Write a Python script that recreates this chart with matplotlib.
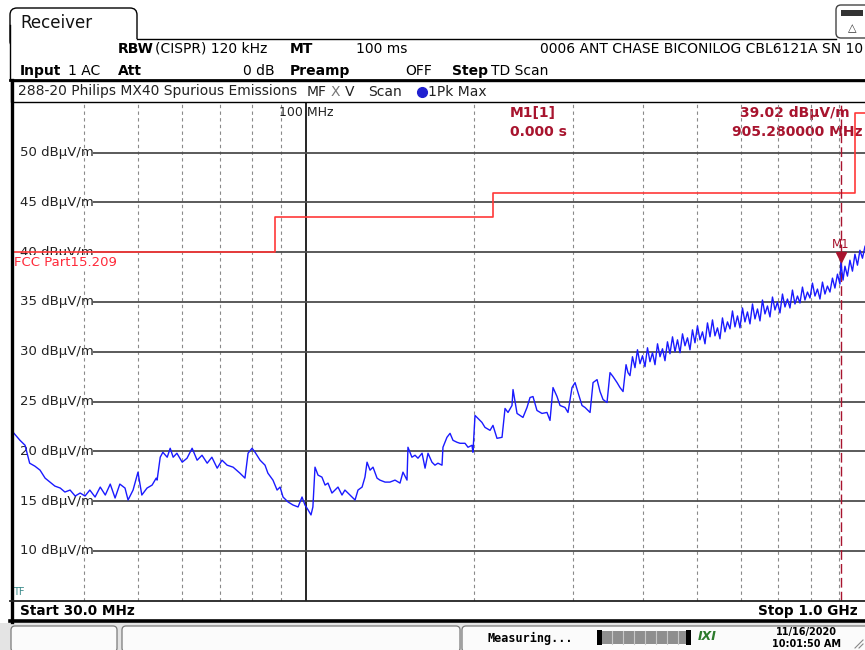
import matplotlib
matplotlib.use('Agg')
import matplotlib.pyplot as plt
from matplotlib.patches import FancyBboxPatch, Rectangle

# ---- data ----
trace_freq = [
    30.0, 30.75, 31.4, 32.0, 32.7, 33.4, 34.1, 34.8, 35.5, 36.3,
    37.0, 37.8, 38.6, 39.4, 40.2, 41.0, 41.9, 42.8, 43.7, 44.6,
    45.5, 46.4, 47.4, 48.0, 49.0, 50.0, 50.8, 51.9, 53.0, 53.9,
    54.1, 54.8, 55.4, 56.4, 57.1, 57.8, 58.7, 60.0, 61.2, 62.5,
    63.8, 65.1, 66.5, 67.8, 69.3, 70.7, 72.2, 74.0, 76.1, 77.7,
    78.7, 80.0, 81.0, 82.7, 84.4, 85.4, 87.2, 88.7, 89.8, 90.9,
    92.8, 94.7, 96.7, 98.3, 99.5, 100.8, 102.0, 102.8, 103.7, 105.0,
    106.7, 108.1, 109.4, 111.2, 112.6, 114.0, 115.9, 117.3, 118.8, 120.8,
    122.3, 123.8, 125.9, 127.4, 128.5, 130.1, 131.7, 133.9, 135.5, 138.4,
    141.2, 144.2, 147.2, 149.0, 151.5, 152.1, 154.6, 156.6, 158.5, 161.2,
    163.2, 165.2, 167.9, 170.0, 172.1, 175.0, 175.7, 178.6, 180.9, 183.1,
    186.2, 188.5, 192.4, 194.8, 198.0, 198.8, 200.5, 203.0, 206.3, 208.9,
    213.3, 215.9, 219.5, 224.1, 226.9, 229.7, 233.5, 234.5, 238.4, 241.3,
    244.3, 248.4, 251.5, 254.6, 258.8, 264.2, 269.7, 273.1, 276.5, 281.1,
    284.6, 290.5, 294.1, 299.0, 302.8, 306.5, 311.6, 315.5, 322.1, 326.1,
    331.5, 335.6, 339.8, 345.4, 349.7, 354.1, 360.0, 364.4, 369.0, 373.6,
    376.6, 379.7, 383.6, 387.6, 391.6, 395.7, 399.8, 403.9, 408.1, 412.3,
    416.6, 420.9, 425.3, 429.7, 434.1, 438.6, 443.1, 447.7, 452.4, 457.1,
    461.8, 466.6, 471.4, 476.3, 481.2, 486.2, 491.2, 496.3, 501.4, 506.6,
    511.9, 517.2, 522.5, 528.0, 533.4, 538.9, 544.5, 550.1, 555.8, 561.6,
    567.4, 573.3, 579.2, 585.2, 591.3, 597.4, 603.6, 609.8, 616.1, 622.5,
    629.0, 635.5, 642.1, 648.7, 655.4, 662.2, 669.1, 676.0, 683.0, 690.1,
    697.2, 704.4, 711.7, 719.1, 726.5, 734.0, 741.6, 749.3, 757.1, 764.9,
    772.8, 780.8, 788.9, 797.1, 805.3, 813.7, 822.1, 830.6, 839.2, 847.9,
    856.6, 865.5, 874.5, 883.5, 892.7, 901.9, 905.3, 913.5, 920.7, 930.2,
    939.8, 949.6, 959.4, 969.4, 979.4, 989.6, 1000.0,
]
trace_level = [
    21.8, 21.1, 20.6, 18.8, 18.5, 18.1, 17.3, 16.9, 16.5, 16.3,
    15.9, 16.1, 15.5, 15.8, 15.5, 16.1, 15.4, 16.4, 15.6, 16.7,
    15.3, 16.7, 16.3, 15.1, 16.1, 17.9, 15.6, 16.3, 16.6, 17.3,
    17.1, 19.4, 19.9, 19.4, 20.3, 19.4, 19.8, 18.9, 19.3, 20.3,
    19.1, 19.6, 18.8, 19.4, 18.3, 19.1, 18.6, 18.4, 17.8, 17.3,
    19.8, 20.3, 19.9, 19.1, 18.6, 17.8, 17.1, 16.1, 16.4, 15.4,
    14.9, 14.6, 14.4, 15.4, 14.6, 14.1, 13.6, 14.4, 18.4, 17.6,
    17.4, 16.6, 16.8, 15.8, 16.1, 16.4, 15.6, 16.1, 15.8, 15.4,
    15.1, 16.1, 16.4, 17.4, 18.9, 18.1, 18.4, 17.3, 17.1, 16.9,
    16.9, 17.1, 16.8, 17.9, 17.1, 20.4, 19.4, 19.6, 19.3, 19.8,
    18.3, 19.8, 18.9, 18.6, 18.8, 18.6, 20.4, 21.4, 21.8, 21.1,
    20.9, 20.8, 20.8, 20.4, 20.6, 19.9, 23.6, 23.3, 22.9, 22.4,
    22.1, 22.6, 21.3, 21.4, 24.3, 23.9, 24.6, 26.2, 23.8, 23.6,
    23.4, 24.4, 25.4, 25.5, 24.1, 23.8, 23.9, 23.1, 26.4, 25.5,
    24.6, 24.4, 23.9, 26.4, 26.9, 25.9, 24.6, 24.4, 23.9, 26.9,
    27.2, 26.0, 25.2, 24.9, 27.9, 27.5, 26.9, 26.4, 26.0, 28.7,
    27.9, 27.6, 29.5, 28.4, 30.2, 28.8, 29.6, 28.5, 30.4, 29.0,
    29.9, 28.7, 30.8, 29.5, 30.3, 29.1, 31.0, 29.8, 31.5, 30.0,
    31.2, 29.9, 31.8, 30.6, 31.4, 30.2, 32.2, 30.9, 32.6, 31.2,
    32.0, 30.8, 32.9, 31.5, 33.2, 31.6, 32.4, 31.3, 33.4, 32.0,
    33.0, 32.3, 34.1, 32.5, 33.6, 32.4, 34.4, 33.0, 34.0, 32.8,
    34.8, 33.3, 34.3, 33.1, 35.2, 33.8, 34.6, 33.5, 35.5, 34.2,
    35.0, 33.9, 35.8, 34.5, 35.3, 34.4, 36.2, 34.8, 35.6, 34.9,
    36.5, 35.2, 36.0, 35.4, 36.9, 35.6, 36.3, 35.3, 37.0, 35.8,
    36.6, 36.0, 37.4, 36.4, 37.8, 36.8, 39.0, 37.2, 38.6, 37.6,
    39.2, 38.1, 39.8, 38.7, 40.2, 39.4, 40.6,
]

# FCC Part 15.209 limit (steps)
limit_freq = [30, 88, 216, 960, 1000]
limit_level = [40, 43.5, 46, 54, 54]

grid_levels = [10, 15, 20, 25, 30, 35, 40, 45, 50]
minor_freqs = [40, 50, 60, 70, 80, 90, 200, 300, 400, 500, 600, 700, 800, 900]

marker_freq = 905.28
marker_level = 39.02

W, H = 865, 650
DARK_RED = '#a8142e'

fig = plt.figure(figsize=(W / 100, H / 100), dpi=100)
fig.patch.set_facecolor('white')

# background layer in pixel coordinates
ui = fig.add_axes([0, 0, 1, 1], zorder=0)
ui.set_xlim(0, W)
ui.set_ylim(H, 0)
ui.axis('off')

# plot area
x0, x1, y0, y1 = 14, 865, 101.5, 600.5
ax = fig.add_axes([x0 / W, 1 - y1 / H, (x1 - x0) / W, (y1 - y0) / H], zorder=1)
ax.patch.set_visible(False)
ax.set_xscale('log')
ax.set_xlim(30, 1000)
ax.set_ylim(5, 55 + 1.5 / 9.95)
ax.set_xticks([])
ax.set_yticks([])
ax.minorticks_off()
for s in ax.spines.values():
    s.set_visible(False)

# foreground layer in pixel coordinates
top = fig.add_axes([0, 0, 1, 1], zorder=2)
top.set_xlim(0, W)
top.set_ylim(H, 0)
top.axis('off')
top.patch.set_visible(False)

# ---- header ----
tab = FancyBboxPatch((10, 8), 127, 40, boxstyle='round,pad=0,rounding_size=7',
                     fc='white', ec='black', lw=1.0)
ui.add_patch(tab)
ui.add_patch(Rectangle((10.6, 38.6), 127.5, 12, fc='white', ec='none'))
ui.plot([10, 10], [25, 80], color='black', lw=1.0)
ui.plot([137, 836], [39, 39], color='black', lw=1.0)
ui.text(20, 23, 'Receiver', fontsize=12, va='center', color='#111111')

icon = FancyBboxPatch((836, 5), 40, 33, boxstyle='round,pad=0,rounding_size=5',
                      fc='white', ec='#444444', lw=1.0)
ui.add_patch(icon)
ui.add_patch(Rectangle((841, 10), 22, 6, fc='#333333', ec='none'))
ui.text(852, 28, '△', fontsize=8, ha='center', va='center', color='#333333')

fs = 10
ui.text(118, 49, 'RBW', fontsize=fs, fontweight='bold', va='center')
ui.text(155, 49, '(CISPR) 120 kHz', fontsize=fs, va='center')
ui.text(290, 49, 'MT', fontsize=fs, fontweight='bold', va='center')
ui.text(356, 49, '100 ms', fontsize=fs, va='center')
ui.text(540, 49, '0006 ANT CHASE BICONILOG CBL6121A SN 10', fontsize=fs, va='center')
ui.text(20, 71, 'Input', fontsize=fs, fontweight='bold', va='center')
ui.text(68, 71, '1 AC', fontsize=fs, va='center')
ui.text(118, 71, 'Att', fontsize=fs, fontweight='bold', va='center')
ui.text(275, 71, '0 dB', fontsize=fs, va='center', ha='right')
ui.text(290, 71, 'Preamp', fontsize=fs, fontweight='bold', va='center')
ui.text(405, 71, 'OFF', fontsize=fs, va='center')
ui.text(452, 71, 'Step', fontsize=fs, fontweight='bold', va='center')
ui.text(491, 71, 'TD Scan', fontsize=fs, va='center')

# title bar
ui.add_patch(Rectangle((11, 80.5), 860, 21, fc='white', ec='black', lw=1.0))
ui.plot([10, 865], [80, 80], color='black', lw=2.0)
tfs = 10
ui.text(18, 91.5, '288-20 Philips MX40 Spurious Emissions', fontsize=tfs,
        va='center', color='#222222')
ui.text(307, 91.5, 'MF', fontsize=tfs, va='center', color='#222222')
ui.text(331, 91.5, 'X', fontsize=tfs, va='center', color='#777777')
ui.text(345, 91.5, 'V', fontsize=tfs, va='center', color='#222222')
ui.text(368, 91.5, 'Scan', fontsize=tfs, va='center', color='#222222')
ui.plot(422, 92, 'o', color='#2020d0', ms=7)
ui.text(428, 91.5, '1Pk Max', fontsize=tfs, va='center', color='#222222')

# ---- plot contents ----
for f in minor_freqs:
    ax.axvline(f, color='#8a8a8a', lw=0.8, ls=(0, (3, 3)), zorder=1)
ax.axvline(100, color='black', lw=1.2, zorder=1)
ax.hlines(grid_levels, 41.5, 1000, color='#4d4d4d', lw=1.3, zorder=1)
for lv in grid_levels:
    ax.text(0.007, lv, f'{lv} dBµV/m', transform=ax.get_yaxis_transform(),
            fontsize=9.5, va='center', color='#222222', zorder=2)
ax.text(100, 54.05, '100 MHz', ha='center', va='center', fontsize=9, color='#222222')

ax.plot(limit_freq, limit_level, drawstyle='steps-post', color='#ff3838', lw=1.2, zorder=3)
ax.text(0.0, 38.95, 'FCC Part15.209', transform=ax.get_yaxis_transform(),
        fontsize=9.5, va='center', color='#ff2a3a', zorder=4,
        bbox=dict(fc='white', ec='none', pad=1.0))

ax.axvline(marker_freq, color=DARK_RED, lw=1.0, ls=(0, (7, 3)), zorder=3)
ax.plot(trace_freq, trace_level, color='#1a1aff', lw=1.0, zorder=5)
ax.plot(marker_freq, marker_level + 0.55, marker='v', color=DARK_RED, ms=7, zorder=6)
ax.text(marker_freq, marker_level + 1.75, 'M1', ha='center', va='center',
        fontsize=8.5, color=DARK_RED, zorder=6)

mfs = 10
ui.text(510, 113, 'M1[1]', fontsize=mfs, fontweight='bold', va='center', color=DARK_RED)
ui.text(510, 132, '0.000 s', fontsize=mfs, fontweight='bold', va='center', color=DARK_RED)
ui.text(740, 113, f'{marker_level:.2f} dBµV/m', fontsize=mfs, fontweight='bold',
        va='center', color=DARK_RED)
ui.text(732, 132, f'{marker_freq:.6f} MHz', fontsize=mfs, fontweight='bold',
        va='center', color=DARK_RED)
ui.text(13, 592, 'TF', fontsize=7, va='center', color='#3a8a8a')

# ---- frame and footer ----
top.plot([11.5, 11.5], [80, 622], color='black', lw=2.4)
top.plot([10, 865], [600.5, 600.5], color='#222222', lw=1.3)
top.plot([10, 865], [621, 621], color='black', lw=2.6)
ui.text(20, 611, 'Start 30.0 MHz', fontsize=9.8, fontweight='bold', va='center')
ui.text(858, 611, 'Stop 1.0 GHz', fontsize=9.8, fontweight='bold', va='center', ha='right')

ui.add_patch(Rectangle((0, 623), W, 27, fc='#e4e4e4', ec='none'))
for bx, bw in [(11, 106), (122, 338), (462, 420)]:
    ui.add_patch(FancyBboxPatch((bx, 626), bw, 26, boxstyle='round,pad=0,rounding_size=4',
                                fc='#fbfbfb', ec='#7a7a7a', lw=0.9))
ui.text(488, 638, 'Measuring...', fontsize=8.5, fontweight='bold', va='center',
        family='DejaVu Sans Mono')
ui.add_patch(Rectangle((598, 631), 92, 13, fc='#8e8e8e', ec='none'))
ui.add_patch(Rectangle((597, 630), 5, 15, fc='black', ec='none'))
ui.add_patch(Rectangle((686, 630), 5, 15, fc='black', ec='none'))
for gx in range(612, 686, 11):
    ui.plot([gx, gx], [631, 644], color='#c8c8c8', lw=0.8)
ui.text(707, 637, 'IXI', fontsize=9, fontweight='bold', style='italic',
        ha='center', va='center', color='#2c7a2c')
ui.text(806, 632, '11/16/2020', fontsize=7, fontweight='bold', ha='center', va='center')
ui.text(806, 644, '10:01:50 AM', fontsize=7, fontweight='bold', ha='center', va='center')
ui.plot([855, 863], [648, 640], color='#888888', lw=0.8)
ui.plot([859, 863], [648, 644], color='#888888', lw=0.8)

fig.savefig('out.png', dpi=100)
